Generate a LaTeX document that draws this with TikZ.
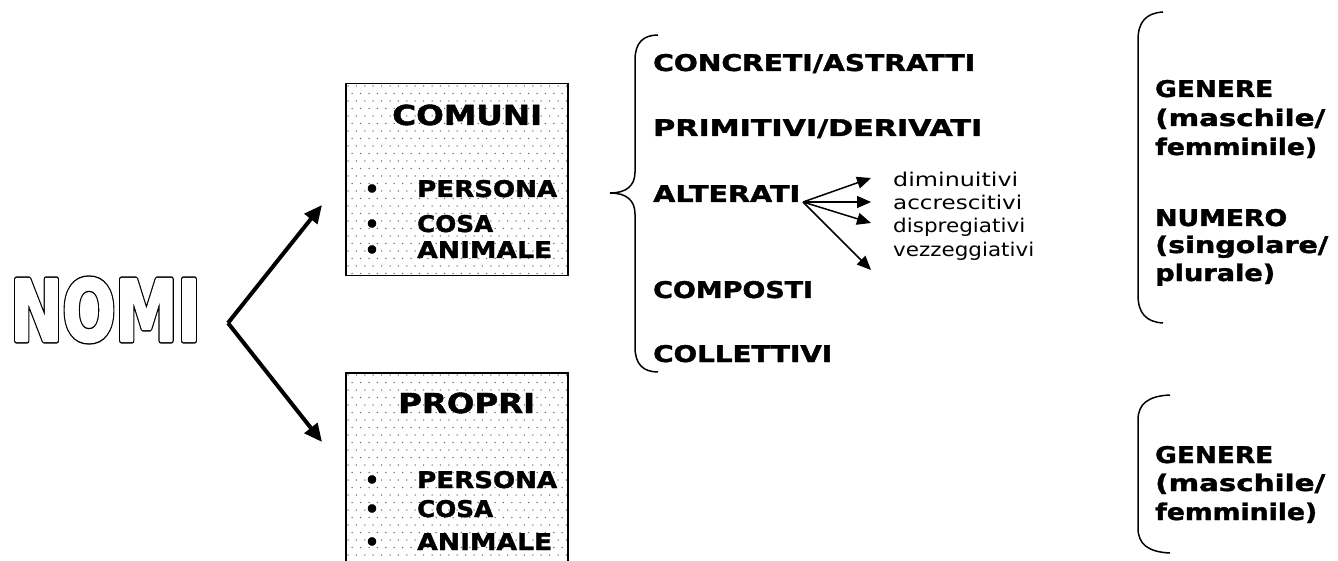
\documentclass[tikz,border=0pt]{standalone}
\usepackage{fontspec}
\setmainfont{DejaVu Sans}[BoldFeatures={FakeBold=1.5}]
\newfontfamily\condfont{DejaVu Sans Condensed}
\usetikzlibrary{arrows.meta}
\newcommand{\nomiblack}[1]{\special{pdf:literal direct 2 Tr 5.5 w 1 j}#1\special{pdf:literal direct 0 Tr 1 w 0 j}}
\newcommand{\nomiwhite}[1]{\special{pdf:literal direct 1 1 1 rg 1 1 1 RG 2 Tr 2.5 w 1 j}#1\special{pdf:literal direct 0 Tr 1 w 0 j 0 0 0 rg 0 0 0 RG}}
\newcommand{\fw}[2]{\resizebox{#1pt}{\height}{#2}}
\begin{document}
\begin{tikzpicture}[x=1pt,y=-1pt,
  title/.style={font=\fontsize{27.5}{32}\selectfont\bfseries, inner sep=0, anchor=base west},
  item/.style={font=\fontsize{23}{27}\selectfont\bfseries, anchor=base west, inner sep=0},
  bul/.style={font=\fontsize{23}{27}\selectfont\bfseries, anchor=base, inner sep=0},
  small/.style={font=\fontsize{19}{23}\selectfont, anchor=base west, inner sep=0},
  boxframe/.style={draw=black, line width=1.5pt, minimum width=222pt, inner sep=0, anchor=north west},
  dotfill/.style={fill=black!60},
  thickarrow/.style={line width=4pt, -{Triangle[length=18pt 0, width=16pt 0]}},
  thinarrow/.style={line width=1.5pt, -{Triangle[length=14pt 0, width=12pt 0]}},
  bracket/.style={line width=1.5pt}]
\useasboundingbox (0,0) rectangle (1338,561);
\clip (0,0) rectangle (1338,561);

% NOMI (outlined heavy letters)
\node[inner sep=0] (nomi) at (105.5,310) {\resizebox{190pt}{63pt}{\fontsize{90}{100}\condfont\bfseries\nomiblack{NOMI}}};
\node[inner sep=0] (nomiin) at (105.5,310) {\resizebox{190pt}{63pt}{\fontsize{90}{100}\condfont\bfseries\nomiwhite{NOMI}}};

% dotted boxes
\begin{scope}
  \clip (345,83) rectangle (567,275);
  \foreach \j in {0,...,26} {
    \pgfmathsetmacro{\yy}{86+7.5*\j}
    \pgfmathsetmacro{\off}{mod(\j,2)*4.2}
    \foreach \i in {0,...,27} {
      \fill[dotfill] ({348+8.4*\i+\off},\yy) circle (0.75pt);
    }
  }
\end{scope}
\begin{scope}
  \clip (345,372) rectangle (567,575);
  \foreach \j in {0,...,26} {
    \pgfmathsetmacro{\yy}{375+7.5*\j}
    \pgfmathsetmacro{\off}{mod(\j,2)*4.2}
    \foreach \i in {0,...,27} {
      \fill[dotfill] ({348+8.4*\i+\off},\yy) circle (0.75pt);
    }
  }
\end{scope}
\node[boxframe, minimum height=192pt] (comuni) at (345,83) {};
\node[boxframe, minimum height=210pt] (propri) at (345,372) {};

% box texts
\node[title] (tcomuni) at (392,125) {\fw{150}{COMUNI}};
\node[bul] (cb1) at (372,197) {•};
\node[bul] (cb2) at (372,232) {•};
\node[bul] (cb3) at (372,258) {•};
\node[item] (c1) at (417,197) {\fw{140}{PERSONA}};
\node[item] (c2) at (417,232) {\fw{76}{COSA}};
\node[item] (c3) at (417,258) {\fw{135}{ANIMALE}};
\node[title] (tpropri) at (398,413) {\fw{137}{PROPRI}};
\node[bul] (pb1) at (372,488) {•};
\node[bul] (pb2) at (372,517) {•};
\node[bul] (pb3) at (372,550) {•};
\node[item] (p1) at (417,488) {\fw{140}{PERSONA}};
\node[item] (p2) at (417,517) {\fw{76}{COSA}};
\node[item] (p3) at (417,550) {\fw{135}{ANIMALE}};

% NOMI arrows
\coordinate (apex) at (228,323);
\coordinate (tipup) at (322,205);
\coordinate (tipdown) at (322,442);
\draw[thickarrow] (apex) -- (tipup);
\draw[thickarrow] (apex) -- (tipdown);

% big brace
\draw[bracket] (658,35) .. controls (643,35) and (635,43) .. (635,60) -- (635,172)
  .. controls (635,186) and (626,193) .. (610,193)
  .. controls (626,193) and (635,200) .. (635,214) -- (635,347)
  .. controls (635,364) and (643,372) .. (658,372);

\node[item] (conc) at (653,71) {\fw{322}{CONCRETI/ASTRATTI}};
\node[item] (prim) at (653,136) {\fw{329}{PRIMITIVI/DERIVATI}};
\node[item] (alt) at (653,202) {\fw{147}{ALTERATI}};
\node[item] (comp) at (653,298) {\fw{160}{COMPOSTI}};
\node[item] (coll) at (653,362) {\fw{179}{COLLETTIVI}};

% alterati arrows
\coordinate (altout) at (803,202);
\coordinate (t1) at (871,178);
\coordinate (t2) at (871,202);
\coordinate (t3) at (871,223);
\coordinate (t4) at (871,270);
\draw[thinarrow] (altout) -- (t1);
\draw[thinarrow] (altout) -- (t2);
\draw[thinarrow] (altout) -- (t3);
\draw[thinarrow] (altout) -- (t4);
\node[small] (dim) at (893,187) {\fw{125}{diminuitivi}};
\node[small] (acc) at (893,210) {\fw{129}{accrescitivi}};
\node[small] (dis) at (893,233) {\fw{132}{dispregiativi}};
\node[small] (vez) at (893,257) {\fw{141}{vezzeggiativi}};

% right brackets
\draw[bracket] (1163,12) .. controls (1146,13) and (1138,22) .. (1138,40) -- (1138,295)
  .. controls (1138,313) and (1146,322) .. (1163,323);
\node[item] (g1) at (1155,97) {\fw{118}{GENERE}};
\node[item] (g2) at (1155,126) {\fw{170}{(maschile/}};
\node[item] (g3) at (1155,155) {\fw{162}{femminile)}};
\node[item] (n1) at (1155,226) {\fw{132}{NUMERO}};
\node[item] (n2) at (1155,253) {\fw{173}{(singolare/}};
\node[item] (n3) at (1155,281) {\fw{120}{plurale)}};

\draw[bracket] (1170,395) .. controls (1148,396) and (1138,404) .. (1138,420) -- (1138,528)
  .. controls (1138,544) and (1148,552) .. (1170,553);
\node[item] (pg1) at (1155,463) {\fw{118}{GENERE}};
\node[item] (pg2) at (1155,491) {\fw{170}{(maschile/}};
\node[item] (pg3) at (1155,520) {\fw{162}{femminile)}};
\end{tikzpicture}
\end{document}
